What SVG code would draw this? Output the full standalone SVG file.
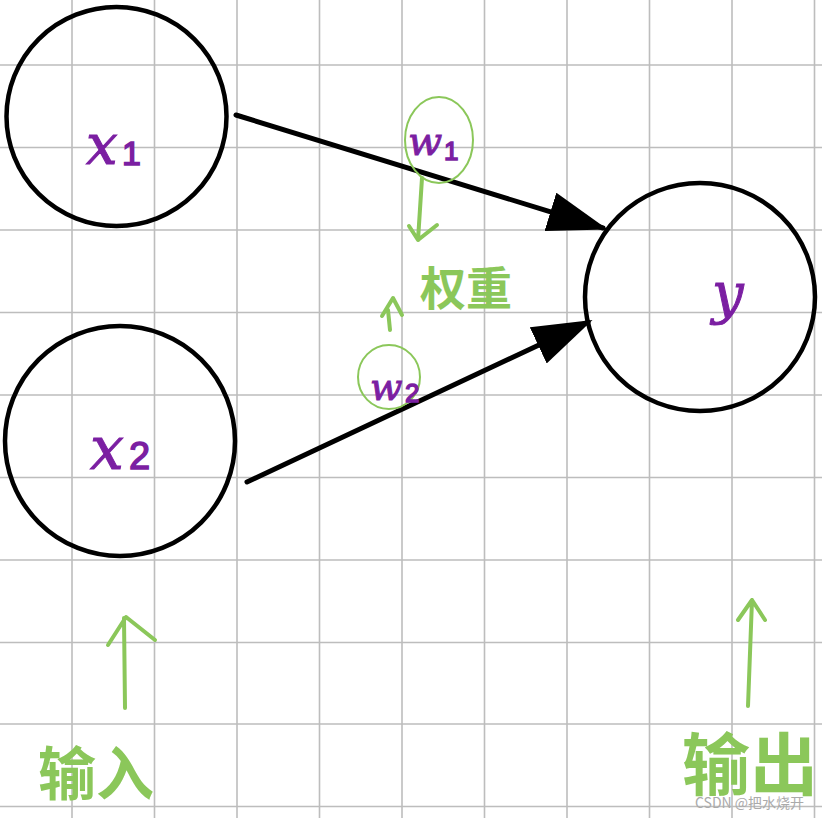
<svg xmlns="http://www.w3.org/2000/svg" width="822" height="818" viewBox="0 0 822 818">
<defs>
<style>
.grid line{stroke:#bdbdbd;stroke-width:1.6}
.node{fill:none;stroke:#000;stroke-width:4.5}
.conn{stroke:#000;stroke-width:5;stroke-linecap:round;fill:none}
.g{stroke:#8bc75a;fill:none;stroke-width:4;stroke-linecap:round;stroke-linejoin:round}
.gt{stroke:#8bc75a;fill:none;stroke-width:2;stroke-linecap:round}
.var{font-family:"DejaVu Serif","Liberation Serif",serif;font-style:italic;fill:#7b1fa2;stroke:#7b1fa2;stroke-width:1}
.sub{font-family:"Liberation Sans",sans-serif;fill:#7b1fa2;stroke:#7b1fa2;stroke-width:1.5}
.cn{font-family:"Noto Sans CJK SC",sans-serif;fill:#8bc75a;font-weight:bold}
</style>
<marker id="ah" viewBox="0 0 12 8" refX="11" refY="4" markerWidth="12" markerHeight="8" markerUnits="strokeWidth" orient="auto">
<path d="M0,0 L12,4 L0,8 z" fill="#000"/>
</marker>
</defs>
<rect width="822" height="818" fill="#fff"/>
<g class="grid">
<line x1="72" y1="0" x2="72" y2="818"/>
<line x1="154.5" y1="0" x2="154.5" y2="818"/>
<line x1="237" y1="0" x2="237" y2="818"/>
<line x1="319.5" y1="0" x2="319.5" y2="818"/>
<line x1="402" y1="0" x2="402" y2="818"/>
<line x1="484.5" y1="0" x2="484.5" y2="818"/>
<line x1="567" y1="0" x2="567" y2="818"/>
<line x1="649.5" y1="0" x2="649.5" y2="818"/>
<line x1="732" y1="0" x2="732" y2="818"/>
<line x1="814.5" y1="0" x2="814.5" y2="818"/>
<line x1="0" y1="65" x2="822" y2="65"/>
<line x1="0" y1="147.5" x2="822" y2="147.5"/>
<line x1="0" y1="230" x2="822" y2="230"/>
<line x1="0" y1="312.5" x2="822" y2="312.5"/>
<line x1="0" y1="395" x2="822" y2="395"/>
<line x1="0" y1="477.5" x2="822" y2="477.5"/>
<line x1="0" y1="560" x2="822" y2="560"/>
<line x1="0" y1="642.5" x2="822" y2="642.5"/>
<line x1="0" y1="724" x2="822" y2="724"/>
<line x1="0" y1="806.5" x2="822" y2="806.5"/>
</g>
<g id="connectors">
<line class="conn" x1="236" y1="115" x2="603" y2="228" marker-end="url(#ah)"/>
<line class="conn" x1="247" y1="482" x2="588" y2="322" marker-end="url(#ah)"/>
</g>
<g id="node-x1">
<ellipse class="node" cx="116.5" cy="116.5" rx="110" ry="109.5"/>
<text class="var" x="86" y="164" font-size="56">x</text>
<text class="sub" x="122" y="165" font-size="34">1</text>
</g>
<g id="node-x2">
<ellipse class="node" cx="120" cy="441" rx="115" ry="115"/>
<text class="var" x="90" y="469" font-size="60">x</text>
<text class="sub" x="129" y="469" font-size="38">2</text>
</g>
<g id="node-y">
<ellipse class="node" cx="700" cy="297" rx="115" ry="114"/>
<text class="var" x="712" y="313" font-size="56">y</text>
</g>
<g id="weight-w1">
<ellipse class="gt" cx="439" cy="140" rx="34" ry="43"/>
<text class="var" x="408" y="155" font-size="40">w</text>
<text class="sub" x="444" y="160" font-size="26">1</text>
</g>
<g id="weight-w2">
<ellipse class="gt" cx="389" cy="377" rx="31" ry="32"/>
<text class="var" x="370" y="400" font-size="38">w</text>
<text class="sub" x="405" y="402" font-size="26">2</text>
</g>
<g id="label-weight">
<path class="g" d="M422,178 L418,240 M409,226 L418,240 L437,225"/>
<path class="g" d="M390,330 L388,310 M382,316 L393,298 L402,315" stroke-width="3"/>
<text class="cn" x="420" y="305" font-size="46">权重</text>
</g>
<g id="label-input">
<path class="g" d="M125,708 L124,618 M108,645 L126,617 L155,640" stroke-width="5"/>
<text class="cn" x="38" y="795" font-size="58">输入</text>
</g>
<g id="label-output">
<path class="g" d="M748,706 L752,600 M738,620 L752,600 L765,620" stroke-width="5"/>
<text class="cn" x="682" y="790" font-size="68">输出</text>
</g>
<text x="695" y="808" font-family="Noto Sans CJK SC,sans-serif" font-size="14" fill="#aaa">CSDN @把水烧开</text>
</svg>
